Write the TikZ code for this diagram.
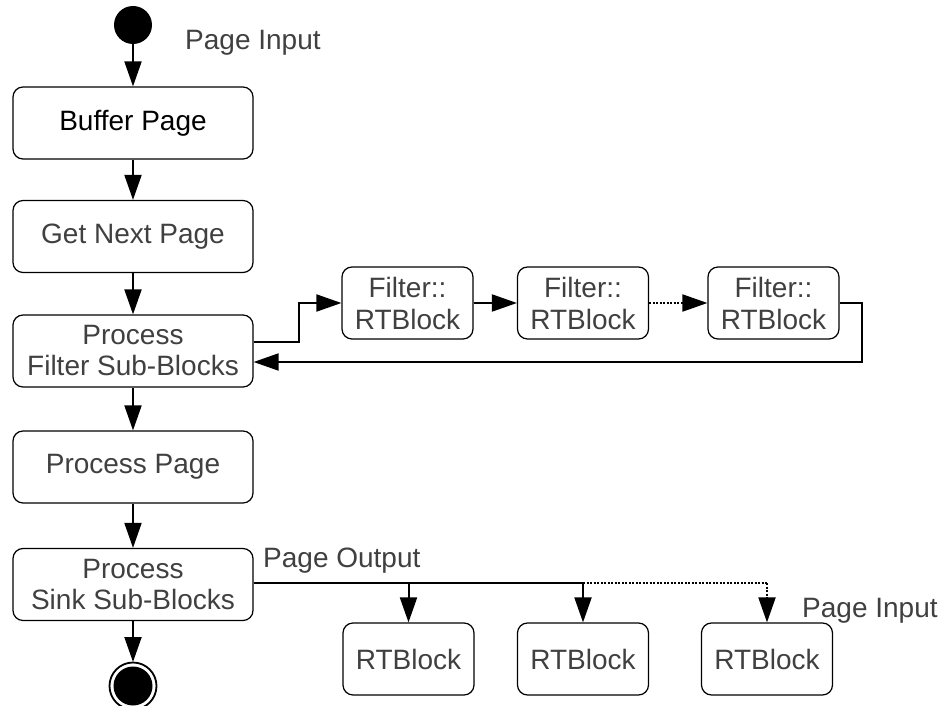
\documentclass[tikz,border=0pt]{standalone}
\usepackage{fontspec}
\setmainfont{Liberation Sans}
\usetikzlibrary{arrows.meta,calc}
\definecolor{txtgray}{RGB}{64,64,64}
\begin{document}
\begin{tikzpicture}[x=1pt,y=-1pt,
  every node/.style={font=\fontsize{28}{31}\selectfont, text=txtgray},
  box/.style={draw=black, line width=1.2pt, rounded corners=10pt,
    minimum width=240pt, minimum height=72pt, align=center, inner sep=0pt},
  sbox/.style={box, minimum width=131pt},
  wire/.style={line width=2pt},
  flow/.style={wire, -{Triangle[length=25pt,width=17pt]}},
  dotline/.style={dash pattern=on 2pt off 1.5pt},
  lbl/.style={anchor=base west, inner sep=0pt}
]
\useasboundingbox (0,0) rectangle (940,706);

% main activity column
\node[circle, fill=black, minimum size=38pt, inner sep=0pt] (start) at (133,25) {};
\node[box, text=black] (buf)  at (133,123)   {Buffer Page};
\node[box]             (next) at (133,236.5) {Get Next Page};
\node[box]             (pf)   at (133,351)   {Process\\Filter Sub-Blocks};
\node[box]             (pp)   at (133,467)   {Process Page};
\node[box]             (sink) at (133,584.5) {Process\\Sink Sub-Blocks};
\node[circle, fill=black, minimum size=39pt, inner sep=0pt, outer sep=4.5pt] (end) at (133,686) {};
\draw[line width=1.8pt] (end.center) circle (23.5pt);

\node[lbl] (pin) at (185,50) {Page Input};

\draw[flow] (start) -- (buf);
\draw[flow] (buf) -- (next);
\draw[flow] (next) -- (pf);
\draw[flow] (pf) -- (pp);
\draw[flow] (pp) -- (sink);
\draw[flow] (sink) -- (end);

% filter sub-block chain
\node[sbox] (f1) at (407.5,303) {Filter::\\[1pt]RTBlock};
\node[sbox] (f2) at (583,303)   {Filter::\\[1pt]RTBlock};
\node[sbox] (f3) at (773.5,303) {Filter::\\[1pt]RTBlock};

\coordinate (pfout) at ($(pf.east)+(0,-9)$);
\coordinate (pfin)  at ($(pf.east)+(0,11)$);
\draw[flow] (pfout) -- ($(pfout)+(45,0)$) |- (f1.west);
\draw[flow] (f1) -- (f2);
\draw[flow, dotline] (f2) -- (f3);
\draw[flow] (f3.east) -- ($(f3.east)+(22,0)$) |- (pfin);

% sink sub-blocks
\node[sbox] (rt1) at (408.5,659) {RTBlock};
\node[sbox] (rt2) at (583,659)   {RTBlock};
\node[sbox] (rt3) at (767,659)   {RTBlock};

\coordinate (so)  at ($(sink.east)+(0,-1.5)$);
\coordinate (br1) at (rt1.north |- so);
\coordinate (br2) at (rt2.north |- so);
\coordinate (br3) at (rt3.north |- so);
\draw[wire] (so) -- (br2);
\draw[wire, dotline] (br2) -- (br3);
\draw[flow] (br1) -- (rt1);
\draw[flow] (br2) -- (rt2);
\draw[flow, dotline] (br3) -- (rt3);

\node[lbl] (pout) at (263,567) {Page Output};
\node[lbl] (pin2) at (802,617) {Page Input};
\end{tikzpicture}
\end{document}
